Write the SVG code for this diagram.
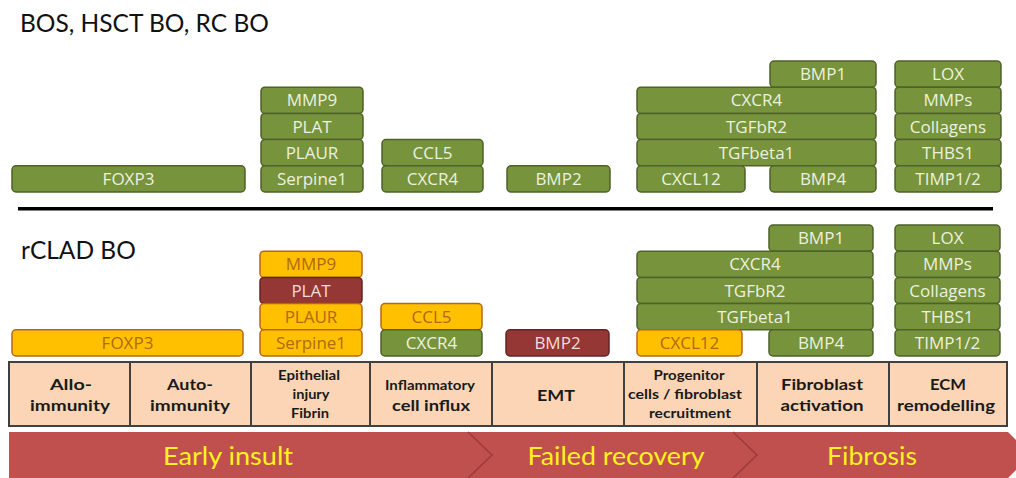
<svg xmlns="http://www.w3.org/2000/svg" width="1016" height="478" viewBox="0 0 1016 478">
<style>
text{font-family:"Open Sans","Liberation Sans",sans-serif}
.g rect{fill:#77933C;stroke:#4F6228;stroke-width:1.5}
.g text{fill:#EBF1DE}
.y rect{fill:#FFC000;stroke:#B8651A;stroke-width:1.5}
.y text{fill:#B06A10}
.r rect{fill:#953735;stroke:#632523;stroke-width:1.5}
.r text{fill:#F2DCDB}
.box text{font-size:17px;text-anchor:middle}
.title{font-family:Lato,"Open Sans",sans-serif;font-size:24.5px;fill:#111}
.cat{fill:#FBD5B5;stroke:#404040;stroke-width:2}
.ct{font-family:Lato,"Open Sans",sans-serif;font-weight:bold;fill:#1a1a1a;text-anchor:middle}
.al{font-family:Lato,"Open Sans",sans-serif;font-size:25px;fill:#FFF21F;text-anchor:middle}
</style>
<rect width="1016" height="478" fill="#fff"/>
<text class="title" x="20" y="32">BOS, HSCT BO, RC BO</text>
<text class="title" x="21" y="259">rCLAD BO</text>

<g id="top-boxes">
<g id="t-foxp3" class="box g"><rect x="12" y="165.8" width="233" height="26.2" rx="4"/><text x="128.5" y="185">FOXP3</text></g>
<g id="t-mmp9" class="box g"><rect x="261" y="87.2" width="102" height="26.2" rx="4"/><text x="312" y="106.4">MMP9</text></g>
<g id="t-plat" class="box g"><rect x="261" y="113.4" width="102" height="26.2" rx="4"/><text x="312" y="132.6">PLAT</text></g>
<g id="t-plaur" class="box g"><rect x="261" y="139.6" width="102" height="26.2" rx="4"/><text x="312" y="158.8">PLAUR</text></g>
<g id="t-serpine1" class="box g"><rect x="261" y="165.8" width="102" height="26.2" rx="4"/><text x="312" y="185">Serpine1</text></g>
<g id="t-ccl5" class="box g"><rect x="382" y="139.6" width="101" height="26.2" rx="4"/><text x="432.5" y="158.8">CCL5</text></g>
<g id="t-cxcr4a" class="box g"><rect x="382" y="165.8" width="101" height="26.2" rx="4"/><text x="432.5" y="185">CXCR4</text></g>
<g id="t-bmp2" class="box g"><rect x="507" y="165.8" width="103" height="26.2" rx="4"/><text x="558.5" y="185">BMP2</text></g>
<g id="t-bmp1" class="box g"><rect x="770" y="61" width="106" height="26.2" rx="4"/><text x="823" y="80.2">BMP1</text></g>
<g id="t-cxcr4b" class="box g"><rect x="637" y="87.2" width="239" height="26.2" rx="4"/><text x="756.5" y="106.4">CXCR4</text></g>
<g id="t-tgfbr2" class="box g"><rect x="637" y="113.4" width="239" height="26.2" rx="4"/><text x="756.5" y="132.6">TGFbR2</text></g>
<g id="t-tgfbeta1" class="box g"><rect x="637" y="139.6" width="239" height="26.2" rx="4"/><text x="756.5" y="158.8">TGFbeta1</text></g>
<g id="t-cxcl12" class="box g"><rect x="637" y="165.8" width="108" height="26.2" rx="4"/><text x="691" y="185">CXCL12</text></g>
<g id="t-bmp4" class="box g"><rect x="770" y="165.8" width="106" height="26.2" rx="4"/><text x="823" y="185">BMP4</text></g>
<g id="t-lox" class="box g"><rect x="895" y="61" width="106" height="26.2" rx="4"/><text x="948" y="80.2">LOX</text></g>
<g id="t-mmps" class="box g"><rect x="895" y="87.2" width="106" height="26.2" rx="4"/><text x="948" y="106.4">MMPs</text></g>
<g id="t-collagens" class="box g"><rect x="895" y="113.4" width="106" height="26.2" rx="4"/><text x="948" y="132.6">Collagens</text></g>
<g id="t-thbs1" class="box g"><rect x="895" y="139.6" width="106" height="26.2" rx="4"/><text x="948" y="158.8">THBS1</text></g>
<g id="t-timp" class="box g"><rect x="895" y="165.8" width="106" height="26.2" rx="4"/><text x="948" y="185">TIMP1/2</text></g>
</g>

<g id="connectors">
<line x1="18" y1="208.8" x2="993" y2="208.8" stroke="#000" stroke-width="3.5"/>
</g>

<g id="bottom-boxes">
<g id="b-foxp3" class="box y"><rect x="12" y="329.8" width="231" height="26.2" rx="4"/><text x="127.5" y="349">FOXP3</text></g>
<g id="b-mmp9" class="box y"><rect x="260" y="251.2" width="102" height="26.2" rx="4"/><text x="311" y="270.4">MMP9</text></g>
<g id="b-plat" class="box r"><rect x="260" y="277.4" width="102" height="26.2" rx="4"/><text x="311" y="296.6">PLAT</text></g>
<g id="b-plaur" class="box y"><rect x="260" y="303.6" width="102" height="26.2" rx="4"/><text x="311" y="322.8">PLAUR</text></g>
<g id="b-serpine1" class="box y"><rect x="260" y="329.8" width="102" height="26.2" rx="4"/><text x="311" y="349">Serpine1</text></g>
<g id="b-ccl5" class="box y"><rect x="381" y="303.6" width="101" height="26.2" rx="4"/><text x="431.5" y="322.8">CCL5</text></g>
<g id="b-cxcr4a" class="box g"><rect x="381" y="329.8" width="101" height="26.2" rx="4"/><text x="431.5" y="349">CXCR4</text></g>
<g id="b-bmp2" class="box r"><rect x="506" y="329.8" width="103" height="26.2" rx="4"/><text x="557.5" y="349">BMP2</text></g>
<g id="b-bmp1" class="box g"><rect x="769" y="225" width="104" height="26.2" rx="4"/><text x="821" y="244.2">BMP1</text></g>
<g id="b-cxcr4b" class="box g"><rect x="637" y="251.2" width="236" height="26.2" rx="4"/><text x="755" y="270.4">CXCR4</text></g>
<g id="b-tgfbr2" class="box g"><rect x="637" y="277.4" width="236" height="26.2" rx="4"/><text x="755" y="296.6">TGFbR2</text></g>
<g id="b-tgfbeta1" class="box g"><rect x="637" y="303.6" width="236" height="26.2" rx="4"/><text x="755" y="322.8">TGFbeta1</text></g>
<g id="b-cxcl12" class="box y"><rect x="637" y="329.8" width="105" height="26.2" rx="4"/><text x="689.5" y="349">CXCL12</text></g>
<g id="b-bmp4" class="box g"><rect x="769" y="329.8" width="104" height="26.2" rx="4"/><text x="821" y="349">BMP4</text></g>
<g id="b-lox" class="box g"><rect x="895" y="225" width="105" height="26.2" rx="4"/><text x="947.5" y="244.2">LOX</text></g>
<g id="b-mmps" class="box g"><rect x="895" y="251.2" width="105" height="26.2" rx="4"/><text x="947.5" y="270.4">MMPs</text></g>
<g id="b-collagens" class="box g"><rect x="895" y="277.4" width="105" height="26.2" rx="4"/><text x="947.5" y="296.6">Collagens</text></g>
<g id="b-thbs1" class="box g"><rect x="895" y="303.6" width="105" height="26.2" rx="4"/><text x="947.5" y="322.8">THBS1</text></g>
<g id="b-timp" class="box g"><rect x="895" y="329.8" width="105" height="26.2" rx="4"/><text x="947.5" y="349">TIMP1/2</text></g>
</g>

<g id="categories">
<rect class="cat" x="9" y="362" width="998" height="64"/>
<g stroke="#404040" stroke-width="2">
<line x1="130" y1="362" x2="130" y2="426"/>
<line x1="251" y1="362" x2="251" y2="426"/>
<line x1="370" y1="362" x2="370" y2="426"/>
<line x1="492" y1="362" x2="492" y2="426"/>
<line x1="624" y1="362" x2="624" y2="426"/>
<line x1="757" y1="362" x2="757" y2="426"/>
<line x1="889" y1="362" x2="889" y2="426"/>
</g>
<g id="c-allo"><text class="ct" x="71" y="390" font-size="15.5" textLength="42" lengthAdjust="spacingAndGlyphs">Allo-</text><text class="ct" x="70" y="411" font-size="15.5" textLength="80" lengthAdjust="spacingAndGlyphs">immunity</text></g>
<g id="c-auto"><text class="ct" x="190" y="390" font-size="15.5" textLength="46" lengthAdjust="spacingAndGlyphs">Auto-</text><text class="ct" x="190" y="411" font-size="15.5" textLength="80" lengthAdjust="spacingAndGlyphs">immunity</text></g>
<g id="c-epi"><text class="ct" x="309" y="380" font-size="12.5" textLength="62" lengthAdjust="spacingAndGlyphs">Epithelial</text><text class="ct" x="311" y="399" font-size="12.5" textLength="37" lengthAdjust="spacingAndGlyphs">injury</text><text class="ct" x="310" y="418" font-size="12.5" textLength="38" lengthAdjust="spacingAndGlyphs">Fibrin</text></g>
<g id="c-infl"><text class="ct" x="430" y="390" font-size="13" textLength="90" lengthAdjust="spacingAndGlyphs">Inflammatory</text><text class="ct" x="431" y="411" font-size="15" textLength="78" lengthAdjust="spacingAndGlyphs">cell influx</text></g>
<g id="c-emt"><text class="ct" x="556" y="401" font-size="15.5" textLength="38" lengthAdjust="spacingAndGlyphs">EMT</text></g>
<g id="c-prog"><text class="ct" x="689" y="380" font-size="12.5" textLength="71" lengthAdjust="spacingAndGlyphs">Progenitor</text><text class="ct" x="685" y="399" font-size="12.5" textLength="114" lengthAdjust="spacingAndGlyphs">cells / fibroblast</text><text class="ct" x="690" y="418" font-size="12.5" textLength="82" lengthAdjust="spacingAndGlyphs">recruitment</text></g>
<g id="c-fib"><text class="ct" x="822" y="390" font-size="16" textLength="82" lengthAdjust="spacingAndGlyphs">Fibroblast</text><text class="ct" x="822" y="411" font-size="16" textLength="83" lengthAdjust="spacingAndGlyphs">activation</text></g>
<g id="c-ecm"><text class="ct" x="948" y="390" font-size="15" textLength="36" lengthAdjust="spacingAndGlyphs">ECM</text><text class="ct" x="946" y="411" font-size="15" textLength="98" lengthAdjust="spacingAndGlyphs">remodelling</text></g>
</g>

<g id="timeline">
<polygon points="9,432 1008,432 1031,455 1008,478 9,478" fill="#C0504D"/>
<polyline points="468,432 492,455 468,478" fill="none" stroke="#9E3A37" stroke-width="1.5"/>
<polyline points="733,432 757,455 733,478" fill="none" stroke="#9E3A37" stroke-width="1.5"/>
<text class="al" x="228" y="465" textLength="130" lengthAdjust="spacingAndGlyphs">Early insult</text>
<text class="al" x="616" y="465" textLength="177" lengthAdjust="spacingAndGlyphs">Failed recovery</text>
<text class="al" x="872" y="465" textLength="90" lengthAdjust="spacingAndGlyphs">Fibrosis</text>
</g>
</svg>
